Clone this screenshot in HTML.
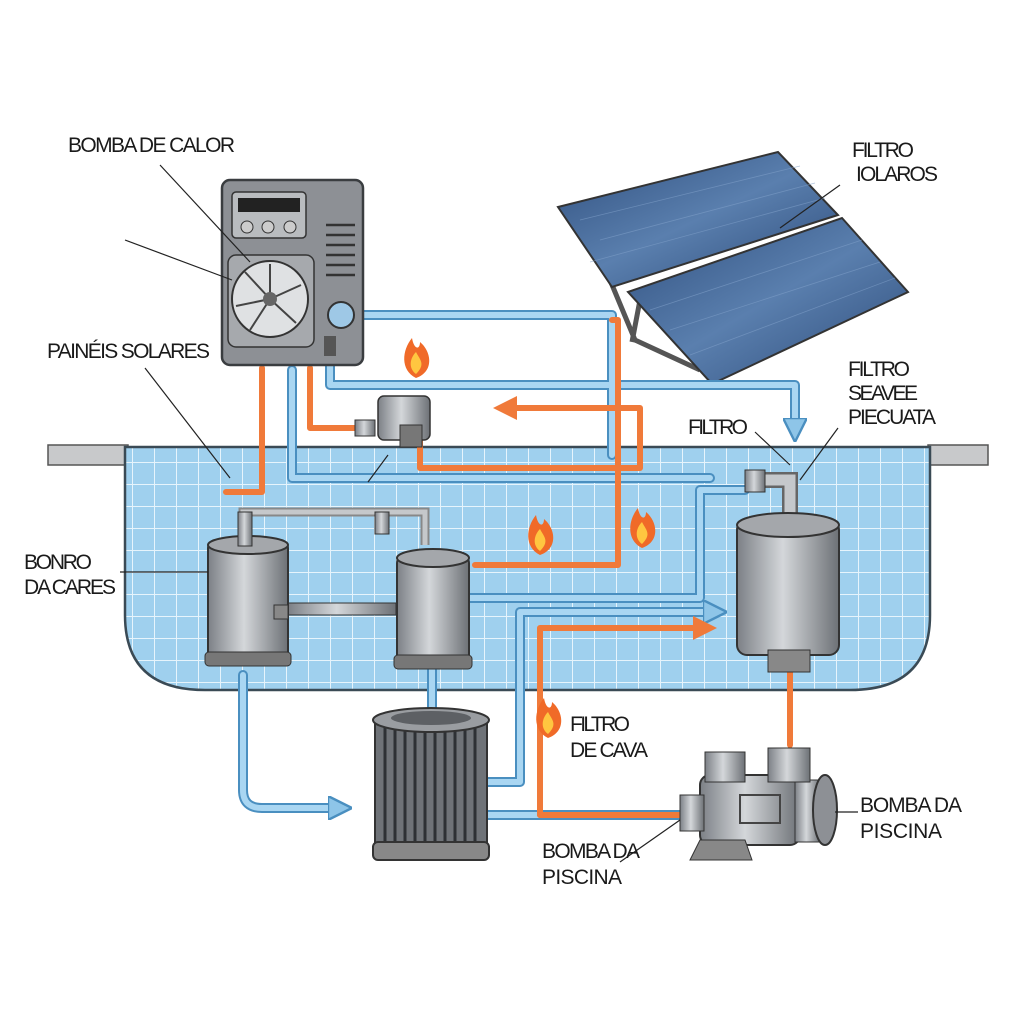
<!DOCTYPE html>
<html><head><meta charset="utf-8"><style>
html,body{margin:0;padding:0;background:#fff;}
svg{display:block}
text{font-family:"Liberation Sans Narrow","Liberation Sans",sans-serif;font-size:21px;fill:#1a1a1a;}
</style></head><body>
<svg width="1024" height="1024" viewBox="0 0 1024 1024" xmlns="http://www.w3.org/2000/svg">
<defs>
<pattern id="tile" width="22" height="22" patternUnits="userSpaceOnUse">
<rect width="22" height="22" fill="#9fd0ee"/>
<path d="M0 0H22M0 0V22" stroke="#e6f4fc" stroke-width="2"/>
</pattern>
<linearGradient id="metal" x1="0" x2="1">
<stop offset="0" stop-color="#7c8086"/><stop offset="0.45" stop-color="#d4d7da"/><stop offset="1" stop-color="#6d7176"/>
</linearGradient>
<linearGradient id="panel" x1="0" y1="0" x2="1" y2="1">
<stop offset="0" stop-color="#2f4f7e"/><stop offset="0.5" stop-color="#5a7fae"/><stop offset="1" stop-color="#2c4a78"/>
</linearGradient>
<marker id="ab" viewBox="0 0 10 10" refX="5" refY="5" markerWidth="4" markerHeight="4" orient="auto"><path d="M0 0L10 5L0 10z" fill="#8ec5e8" stroke="#4a8fc0"/></marker>
<marker id="ao" viewBox="0 0 10 10" refX="5" refY="5" markerWidth="4" markerHeight="4" orient="auto"><path d="M0 0L10 5L0 10z" fill="#f07a3a"/></marker>
</defs>

<!-- deck -->
<rect x="48" y="445" width="80" height="20" fill="#c8c9cb" stroke="#555" stroke-width="1.5"/>
<rect x="928" y="445" width="60" height="20" fill="#c8c9cb" stroke="#555" stroke-width="1.5"/>
<!-- pool -->
<path d="M125 447 H930 V615 Q930 690 850 690 H205 Q125 690 125 615 Z" fill="url(#tile)" stroke="#3a4a55" stroke-width="2.5"/>

<!-- solar panels -->
<path d="M610 280 L635 340 L700 370 M640 300 L632 342" stroke="#555" stroke-width="5" fill="none"/>
<polygon points="558,207 778,152 838,215 612,287" fill="url(#panel)" stroke="#333" stroke-width="2"/>
<polygon points="628,292 842,218 908,292 712,384" fill="url(#panel)" stroke="#333" stroke-width="2"/>
<g stroke="#7f9fc8" stroke-width="0.8" opacity="0.6">
<path d="M580 220 L800 166 M600 240 L815 183 M590 262 L825 198"/>
<path d="M650 310 L862 240 M670 330 L880 262 M690 355 L895 278"/>
</g>

<!-- pipes blue -->
<g fill="none" stroke-linecap="round" stroke-linejoin="round">
<g stroke="#4a8fc0" stroke-width="10">
<path d="M345 315 H612 V455 H612"/>
<path d="M330 335 V385 H795 V430"/>
<path d="M292 370 V478 H710"/>
<path d="M470 598 H700 V490 H745"/>
<path d="M488 782 H520 V612 H710"/>
<path d="M243 675 V790 Q243 808 262 808 H335"/>
<path d="M432 670 V715"/>
<path d="M488 815 H680"/>
</g>
<g stroke="#a9d6f2" stroke-width="6">
<path d="M345 315 H612 V455 H612"/>
<path d="M330 335 V385 H795 V430" marker-end="url(#ab)"/>
<path d="M292 370 V478 H710"/>
<path d="M470 598 H700 V490 H745"/>
<path d="M488 782 H520 V612 H715" marker-end="url(#ab)"/>
<path d="M243 675 V790 Q243 808 262 808 H340" marker-end="url(#ab)"/>
<path d="M432 670 V715"/>
<path d="M488 815 H680"/>
</g>
<!-- orange -->
<g stroke="#f07a3a" stroke-width="6">
<path d="M262 368 V492 H226"/>
<path d="M310 368 V428 H360"/>
<path d="M612 320 H618 V565 H475"/>
<path d="M420 440 V468 H640 V408 H505" marker-end="url(#ao)"/>
<path d="M540 815 V628 H705" marker-end="url(#ao)"/>
<path d="M540 815 H680"/>
<path d="M790 665 V745"/>
</g>
</g>

<!-- heat pump -->
<rect x="222" y="180" width="141" height="185" rx="8" fill="#8d9095" stroke="#3a3d40" stroke-width="2.5"/>
<rect x="232" y="192" width="74" height="46" rx="4" fill="#b9bcbf" stroke="#333" stroke-width="1.5"/>
<rect x="238" y="198" width="62" height="14" fill="#222"/>
<circle cx="247" cy="227" r="6" fill="#ccc" stroke="#333"/><circle cx="268" cy="227" r="6" fill="#ccc" stroke="#333"/><circle cx="290" cy="227" r="6" fill="#ccc" stroke="#333"/>
<rect x="228" y="255" width="86" height="92" rx="8" fill="#a6a9ad" stroke="#333" stroke-width="1.5"/>
<circle cx="270" cy="299" r="38" fill="#dfe1e3" stroke="#333" stroke-width="2"/>
<g stroke="#444" stroke-width="2" fill="none"><path d="M270 299 L270 264 M270 299 L301 285 M270 299 L296 323 M270 299 L250 330 M270 299 L236 306 M270 299 L245 272"/></g>
<circle cx="270" cy="299" r="7" fill="#666"/>
<g stroke="#333" stroke-width="2.5"><path d="M326 225H355M326 235H355M326 245H355M326 255H355M326 265H355M326 275H355"/></g>
<circle cx="341" cy="315" r="13" fill="#9ec8e6" stroke="#333" stroke-width="2"/>
<rect x="324" y="336" width="12" height="20" fill="#555"/>

<!-- valve -->
<rect x="378" y="396" width="52" height="44" rx="6" fill="url(#metal)" stroke="#333" stroke-width="1.5"/>
<rect x="355" y="420" width="20" height="16" fill="url(#metal)" stroke="#333"/>
<rect x="400" y="425" width="22" height="22" fill="#777" stroke="#333"/>

<!-- left tank -->
<path d="M243 535 V512 H425 V545" fill="none" stroke="#888" stroke-width="9"/>
<path d="M243 535 V512 H425 V545" fill="none" stroke="#c5c8cb" stroke-width="5"/>
<rect x="375" y="512" width="14" height="22" fill="url(#metal)" stroke="#333"/>
<rect x="288" y="603" width="108" height="12" fill="url(#metal)" stroke="#333"/>
<rect x="208" y="540" width="80" height="122" rx="8" fill="url(#metal)" stroke="#333" stroke-width="2"/>
<ellipse cx="248" cy="545" rx="40" ry="9" fill="#a4a7ab" stroke="#333" stroke-width="2"/>
<rect x="238" y="512" width="14" height="34" fill="url(#metal)" stroke="#333"/>
<rect x="205" y="652" width="86" height="14" rx="4" fill="#777" stroke="#333"/>
<rect x="274" y="605" width="14" height="14" fill="#888" stroke="#333"/>

<!-- middle tank -->
<rect x="397" y="555" width="72" height="110" rx="8" fill="url(#metal)" stroke="#333" stroke-width="2"/>
<ellipse cx="433" cy="558" rx="36" ry="9" fill="#a4a7ab" stroke="#333" stroke-width="2"/>
<rect x="394" y="655" width="78" height="14" rx="4" fill="#777" stroke="#333"/>

<!-- right tank -->
<path d="M745 480 H790 V515" fill="none" stroke="#666" stroke-width="16"/>
<path d="M745 480 H790 V515" fill="none" stroke="#c5c8cb" stroke-width="11"/>
<rect x="745" y="470" width="20" height="22" fill="url(#metal)" stroke="#333"/>
<rect x="737" y="520" width="102" height="135" rx="10" fill="url(#metal)" stroke="#333" stroke-width="2"/>
<ellipse cx="788" cy="525" rx="51" ry="12" fill="#a4a7ab" stroke="#333" stroke-width="2"/>
<rect x="768" y="650" width="42" height="22" fill="#888" stroke="#333"/>

<!-- cartridge filter -->
<rect x="375" y="720" width="112" height="128" fill="#6f7378" stroke="#333" stroke-width="2"/>
<g stroke="#2e3135" stroke-width="3"><path d="M385 725V845M395 725V845M405 725V845M415 725V845M425 725V845M435 725V845M445 725V845M455 725V845M465 725V845M475 725V845"/></g>
<ellipse cx="431" cy="720" rx="58" ry="12" fill="#9a9da1" stroke="#333" stroke-width="2"/>
<ellipse cx="431" cy="718" rx="40" ry="7" fill="#5d6064"/>
<rect x="373" y="842" width="116" height="18" rx="5" fill="#888" stroke="#333" stroke-width="2"/>

<!-- pump -->
<rect x="700" y="775" width="100" height="70" rx="10" fill="url(#metal)" stroke="#333" stroke-width="2"/>
<rect x="680" y="795" width="24" height="36" fill="url(#metal)" stroke="#333"/>
<rect x="795" y="780" width="25" height="62" fill="url(#metal)" stroke="#333"/>
<ellipse cx="825" cy="810" rx="12" ry="35" fill="#8d9095" stroke="#333" stroke-width="2"/>
<rect x="705" y="752" width="40" height="30" fill="url(#metal)" stroke="#333"/>
<rect x="768" y="748" width="42" height="34" fill="url(#metal)" stroke="#333"/>
<path d="M690 860 L700 840 H745 L752 860 Z" fill="#888" stroke="#333"/>
<rect x="740" y="795" width="40" height="28" fill="none" stroke="#444" stroke-width="2"/>

<!-- flames -->
<g>
<path d="M416 378 C400 370 402 350 412 338 C414 350 420 350 420 342 C432 352 434 372 416 378Z" fill="#f06a28"/>
<path d="M416 374 C408 368 410 358 416 352 C420 360 426 364 416 374Z" fill="#ffc640"/>
<path d="M540 555 C524 547 526 527 536 515 C538 527 544 527 544 519 C556 529 558 549 540 555Z" fill="#f06a28"/>
<path d="M540 551 C532 545 534 535 540 529 C544 537 550 541 540 551Z" fill="#ffc640"/>
<path d="M642 548 C626 540 628 520 638 508 C640 520 646 520 646 512 C658 522 660 542 642 548Z" fill="#f06a28"/>
<path d="M642 544 C634 538 636 528 642 522 C646 530 652 534 642 544Z" fill="#ffc640"/>
<path d="M548 738 C532 730 534 710 544 698 C546 710 552 710 552 702 C564 712 566 732 548 738Z" fill="#f06a28"/>
<path d="M548 734 C540 728 542 718 548 712 C552 720 558 724 548 734Z" fill="#ffc640"/>
</g>

<!-- leader lines -->
<g stroke="#222" stroke-width="1.2" fill="none">
<path d="M160 165 L250 262"/>
<path d="M125 240 L232 280"/>
<path d="M145 368 L230 478"/>
<path d="M840 185 L780 228"/>
<path d="M838 428 L800 480"/>
<path d="M755 432 L790 465"/>
<path d="M120 572 L208 572"/>
<path d="M858 812 L835 812"/>
<path d="M620 862 L680 820"/>
<path d="M368 482 L388 455"/>
</g>

<!-- labels -->
<text x="68" y="152" textLength="167">BOMBA DE CALOR</text>
<text x="852" y="157" textLength="62">FILTRO</text>
<text x="856" y="181" textLength="82">IOLAROS</text>
<text x="47" y="358" textLength="163">PAINÉIS SOLARES</text>
<text x="848" y="376" textLength="62">FILTRO</text>
<text x="848" y="400" textLength="70">SEAVEE</text>
<text x="848" y="424" textLength="88">PIECUATA</text>
<text x="688" y="434" textLength="60">FILTRO</text>
<text x="24" y="569" textLength="68">BONRO</text>
<text x="24" y="594" textLength="92">DA CARES</text>
<text x="570" y="731" textLength="60">FILTRO</text>
<text x="570" y="757" textLength="78">DE CAVA</text>
<text x="860" y="812" textLength="102">BOMBA DA</text>
<text x="860" y="838" textLength="82">PISCINA</text>
<text x="542" y="858" textLength="98">BOMBA DA</text>
<text x="542" y="884" textLength="80">PISCINA</text>
</svg>
</body></html>
